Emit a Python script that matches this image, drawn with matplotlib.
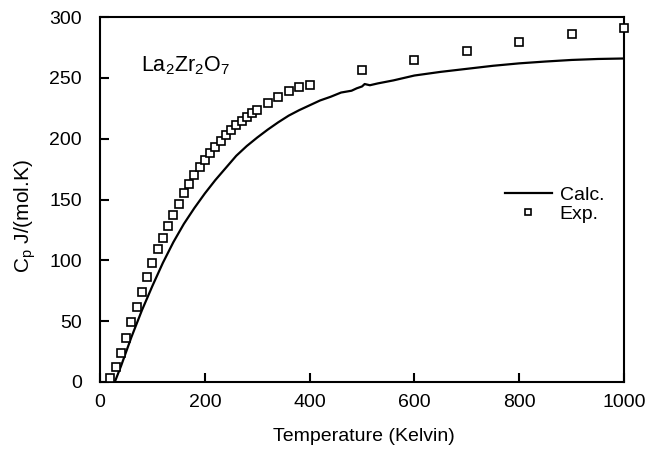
import matplotlib
matplotlib.use("Agg")
import matplotlib.pyplot as plt

plt.rcParams['font.family'] = ['Liberation Sans', 'DejaVu Sans']
plt.rcParams['mathtext.fontset'] = 'custom'
plt.rcParams['mathtext.rm'] = 'Liberation Sans'
plt.rcParams['mathtext.it'] = 'Liberation Sans'

# Experimental data
exp_T = [20, 30, 40, 50, 60, 70, 80, 90, 100, 110, 120, 130, 140, 150, 160, 170,
         180, 190, 200, 210, 220, 230, 240, 250, 260, 270, 280, 290, 300,
         320, 340, 360, 380, 400, 500, 600, 700, 800, 900, 1000]
exp_Cp = [3.5, 12, 24, 36, 49, 61.5, 74, 86, 97.5, 109, 118.7, 128.6, 137.6, 146.4, 155, 163,
          169.8, 176.6, 182.4, 188.5, 193.4, 198.4, 202.7, 207, 211, 214.8, 218, 221.4, 224,
          229.7, 234.6, 239.3, 242.3, 244.2, 256.3, 265, 272.5, 279.4, 286, 291.2]

# Calculated curve
calc_T = [28, 30, 40, 50, 60, 70, 80, 90, 100, 120, 140, 160, 180, 200, 220, 240, 260,
          280, 300, 320, 340, 360, 380, 400, 420, 440, 460, 480, 490, 500, 505, 515,
          530, 560, 600, 650, 700, 750, 800, 850, 900, 950, 1000]
calc_Cp = [0, 2, 13, 25, 37, 48, 59, 69, 79, 98, 115, 130, 143, 155, 166, 176, 186,
           194, 201, 207.5, 213.5, 219, 223.5, 227.5, 231.5, 234.5, 238, 239.5, 241.5, 243, 245, 244,
           245.5, 248, 252, 255, 257.5, 260, 262, 263.5, 264.8, 265.6, 266]

fig = plt.figure(figsize=(6.65, 4.51), dpi=100)
ax = fig.add_axes([0.1504, 0.153, 0.788, 0.809])

ax.plot(calc_T, calc_Cp, color='black', lw=1.6, label='Calc.')
ax.plot(exp_T, exp_Cp, linestyle='none', marker='s', markersize=6,
        markerfacecolor='white', markeredgecolor='black', markeredgewidth=1.2,
        label='Exp.', clip_on=False, zorder=5)

ax.set_xlim(0, 1000)
ax.set_ylim(0, 300)
ax.set_xticks([0, 200, 400, 600, 800, 1000])
ax.set_yticks([0, 50, 100, 150, 200, 250, 300])
ax.tick_params(direction='in', length=6.5, width=1.5, labelsize=14,
               top=False, right=False)
ax.tick_params(axis='x', pad=9)
ax.tick_params(axis='y', pad=13)
for s in ax.spines.values():
    s.set_linewidth(1.5)

ax.set_xlabel('Temperature (Kelvin)', fontsize=14)
ax.set_ylabel(r'C$_\mathrm{p}$ J/(mol.K)', fontsize=15)
ax.xaxis.set_label_coords(0.504, -0.125)
ax.yaxis.set_label_coords(-0.118, 0.455)

ax.text(0.078, 0.85, r'La$_2$Zr$_2$O$_7$', transform=ax.transAxes, fontsize=15.5)

leg = ax.legend(loc='upper left', bbox_to_anchor=(0.773, 0.536), frameon=False,
                fontsize=14, handlelength=2.4, numpoints=1, markerscale=0.8,
                borderaxespad=0, borderpad=0, labelspacing=0.05, handletextpad=0.4)

fig.savefig('out.png', dpi=100)
